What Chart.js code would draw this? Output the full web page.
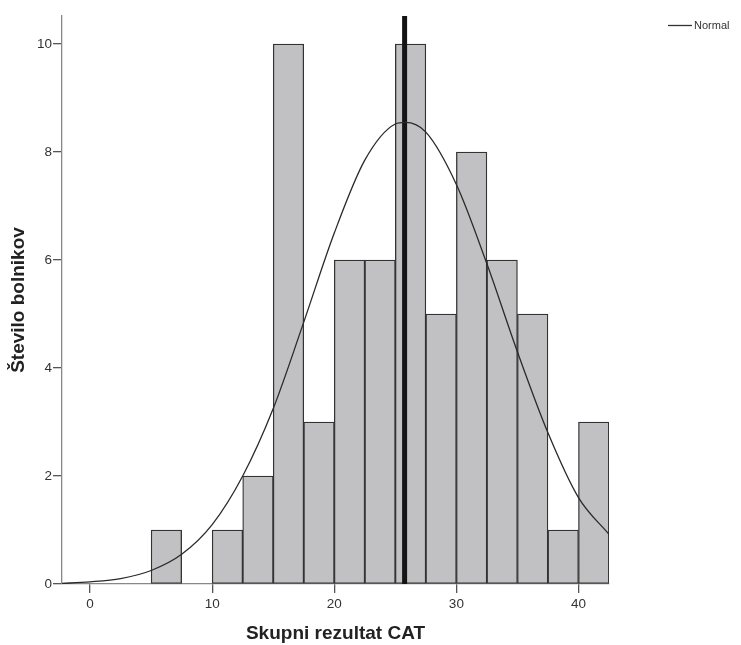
<!DOCTYPE html>
<html>
<head>
<meta charset="UTF-8">
<title>Skupni rezultat CAT</title>
<script src="https://cdn.jsdelivr.net/npm/chart.js"></script>
<style>
    body { margin: 0; background: #fff; }
    #wrap { width: 741px; height: 645px; }
</style>
</head>
<body>
<div id="wrap"><canvas id="histChart" width="741" height="645"></canvas></div>
<script>
// histogram bins (start of each bin) and counts
var binStarts = [5, 7.5, 10, 12.5, 15, 17.5, 20, 22.5, 25, 27.5, 30, 32.5, 35, 37.5, 40];
var binWidth = 2.5;
var counts = [1, 0, 1, 2, 10, 3, 6, 6, 10, 5, 8, 6, 5, 1, 3];

// normal curve
var curveX = [-2.5, 0, 2.5, 5, 7.5, 10, 12.5, 15, 17.5, 20, 22.5, 25, 25.8, 27.5, 30, 32.5, 35, 37.5, 40, 42.5];
var curveY = [0.01, 0.04, 0.1, 0.25, 0.55, 1.1, 2.0, 3.25, 4.85, 6.5, 7.85, 8.52, 8.55, 8.37, 7.4, 5.93, 4.3, 2.8, 1.6, 0.92];

// mean reference line
var meanValue = 25.76;

var xTicks = [0, 10, 20, 30, 40];
var yTicks = [0, 2, 4, 6, 8, 10];
var xMin = -2.3, xMax = 42.5;
var yMax = 10.52;

var barData = binStarts.map(function (s, i) {
    return { x: s + binWidth / 2, y: counts[i] };
});
var curveData = curveX.map(function (x, i) { return { x: x, y: curveY[i] }; });

var fontFam = '"Liberation Sans", Arial, sans-serif';

// small legend at top right
var legendPlugin = {
    id: 'normalLegend',
    afterDraw: function (chart) {
        var c = chart.ctx;
        c.save();
        c.strokeStyle = '#333';
        c.lineWidth = 1.3;
        c.beginPath();
        c.moveTo(668, 25.5);
        c.lineTo(692, 25.5);
        c.stroke();
        c.fillStyle = '#333';
        c.font = '11px ' + fontFam;
        c.textBaseline = 'middle';
        c.fillText('Normal', 694, 26);
        c.restore();
    }
};

var ctx = document.getElementById('histChart').getContext('2d');
var histChart = new Chart(ctx, {
    data: {
        datasets: [
            {
                type: 'line',
                label: 'Normal',
                data: curveData,
                borderColor: '#2a2a2a',
                borderWidth: 1.3,
                pointRadius: 0,
                cubicInterpolationMode: 'monotone',
                fill: false,
                order: 1
            },
            {
                type: 'line',
                label: 'Mean',
                data: [{ x: meanValue, y: 0 }, { x: meanValue, y: yMax }],
                borderColor: '#141414',
                borderWidth: 5,
                pointRadius: 0,
                fill: false,
                order: 2
            },
            {
                type: 'bar',
                label: 'Število bolnikov',
                data: barData,
                backgroundColor: '#c1c1c3',
                borderColor: '#333',
                borderWidth: 1.3,
                borderSkipped: false,
                barPercentage: 1,
                categoryPercentage: 1,
                order: 3
            }
        ]
    },
    options: {
        responsive: false,
        animation: false,
        layout: { padding: { top: 16, right: 132, left: 0, bottom: 0 } },
        plugins: {
            legend: { display: false },
            tooltip: { enabled: false }
        },
        scales: {
            x: {
                type: 'linear',
                offset: false,
                min: xMin,
                max: xMax,
                afterBuildTicks: function (s) {
                    s.ticks = xTicks.map(function (v) { return { value: v }; });
                },
                afterFit: function (s) { s.height = 61; },
                grid: { offset: false, drawOnChartArea: false, drawTicks: true, tickLength: 9, color: '#555', lineWidth: 1.3 },
                border: { color: '#888', width: 1.3 },
                ticks: {
                    color: '#333',
                    padding: 3,
                    maxRotation: 0,
                    font: { family: fontFam, size: 13.5 }
                },
                title: {
                    display: true,
                    text: 'Skupni rezultat CAT',
                    color: '#222',
                    padding: { top: 0, bottom: 0 },
                    font: { family: fontFam, size: 19, weight: 'bold' }
                }
            },
            y: {
                type: 'linear',
                min: 0,
                max: yMax,
                afterBuildTicks: function (s) {
                    s.ticks = yTicks.map(function (v) { return { value: v }; });
                },
                afterFit: function (s) { s.width = 62; },
                grid: { drawOnChartArea: false, drawTicks: true, tickLength: 9, color: '#555', lineWidth: 1.3 },
                border: { color: '#888', width: 1.3 },
                ticks: {
                    color: '#333',
                    padding: 1,
                    font: { family: fontFam, size: 13.5 }
                },
                title: {
                    display: true,
                    text: 'Število bolnikov',
                    color: '#222',
                    padding: { top: 7.5, bottom: 0 },
                    font: { family: fontFam, size: 19, weight: 'bold' }
                }
            }
        }
    },
    plugins: [legendPlugin]
});
</script>
</body>
</html>
